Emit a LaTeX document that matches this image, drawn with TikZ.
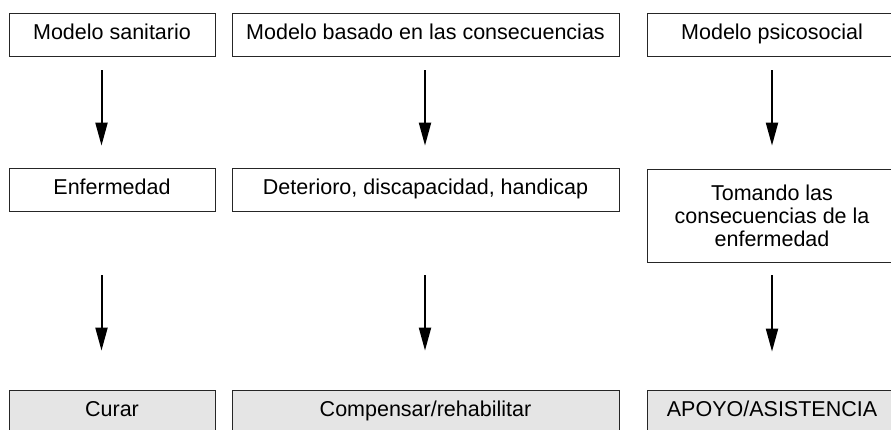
\documentclass[tikz,border=0pt]{standalone}
\usepackage{fontspec}
\setmainfont{Liberation Sans}
\usetikzlibrary{arrows.meta}
\usepackage{xcolor}

\begin{document}
\begin{tikzpicture}[x=1pt, y=1pt]
        \tikzstyle{tbox}=[draw=black!85, line width=0.8pt, fill=white, minimum height=43pt, inner sep=0pt, align=center, font=\fontsize{21.5}{23}\selectfont]
        \tikzstyle{mbox}=[tbox, text height=15.5pt, text depth=6.5pt]
        \tikzstyle{gbox}=[mbox, fill=black!10]
        \tikzstyle{arr}=[line width=2pt, -{Triangle[length=23pt, width=12pt]}]

        \useasboundingbox (0,0) rectangle (891,-429);

        % fila 1: los tres modelos
        \node[mbox, minimum width=206pt] (m1) at (112,-34.5) {Modelo sanitario};
        \node[mbox, minimum width=387pt] (m2) at (425.5,-34.5) {Modelo basado en las consecuencias};
        \node[mbox, minimum width=250pt] (m3) at (772,-34.5) {Modelo psicosocial};

        % fila 2
        \node[mbox, minimum width=206pt] (e1) at (112,-189.5) {Enfermedad};
        \node[mbox, minimum width=387pt] (e2) at (425.5,-189.5) {Deterioro, discapacidad, handicap};
        \node[tbox, minimum width=250pt, minimum height=93pt] (e3) at (772,-215.5) {Tomando las\\consecuencias de la\\enfermedad};

        % fila 3 (gris)
        \node[gbox, minimum width=206pt] (r1) at (112,-411.5) {Curar};
        \node[gbox, minimum width=387pt] (r2) at (425.5,-411.5) {Compensar/rehabilitar};
        \node[gbox, minimum width=250pt] (r3) at (772,-411.5) {APOYO/ASISTENCIA};

        % flechas
        \foreach \a/\b/\dx/\s/\e in {m1/e1/-10.5/14/22, m2/e2/-0.5/14/22, m3/e3/0/14/23,
                                    e1/r1/-10.5/64/39, e2/r2/-0.5/64/39, e3/r3/0/13/38} {
            \draw[arr, shorten <=\s pt, shorten >=\e pt] ([xshift=\dx pt]\a.south) -- ([xshift=\dx pt]\b.north);
        }
    \end{tikzpicture}
\end{document}
